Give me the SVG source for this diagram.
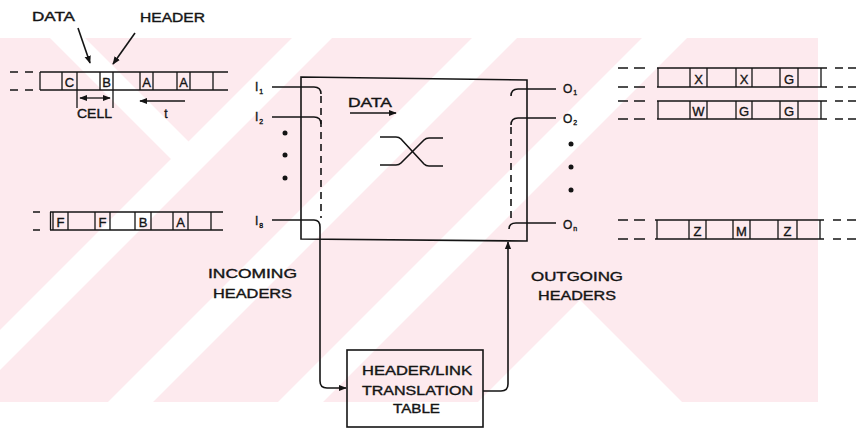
<svg xmlns="http://www.w3.org/2000/svg" width="856" height="431" viewBox="0 0 856 431">
<style>
.ln{stroke:#141414;stroke-width:1.6;fill:none}
.th{stroke:#141414;stroke-width:1.3;fill:none}
.dash{stroke:#141414;stroke-width:1.6;fill:none;stroke-dasharray:7,5}
.t{font-family:"Liberation Sans",Arial,sans-serif;fill:#141414;stroke:#141414;stroke-width:0.35}
.lab{font-size:12px}
.let{font-size:13px}
.sub{font-size:7px}
.wm{fill:#fdeaee}
.dot{fill:#141414}
</style>
<defs>
<marker id="ah" viewBox="0 0 10 10" refX="9" refY="5" markerWidth="8" markerHeight="8" markerUnits="userSpaceOnUse" orient="auto">
<path d="M0,1 L10,5 L0,9 Z" fill="#141414"/>
</marker>
<marker id="ahs" viewBox="0 0 10 10" refX="1" refY="5" markerWidth="8" markerHeight="8" markerUnits="userSpaceOnUse" orient="auto">
<path d="M10,1 L0,5 L10,9 Z" fill="#141414"/>
</marker>
<clipPath id="wmclip"><rect x="0" y="38" width="818" height="364"/></clipPath>
</defs>
<rect width="856" height="431" fill="#fff"/>
<g id="watermark" clip-path="url(#wmclip)">
<rect class="wm" x="0" y="38" width="818" height="364"/>
<polygon fill="#fff" points="50,38 85,38 207,160 0,367 0,332 172,160"/>
<polygon fill="#fff" points="292,38 332,38 0,370 0,330"/>
<polygon fill="#fff" points="472,38 517,38 153,402 108,402"/>
<polygon fill="#fff" points="642,38 687,38 323,402 278,402"/>
<polygon fill="#fff" points="478,402 580,300 682,402"/>
</g>

<g id="label-data-top">
<text class="t lab" x="32" y="21" textLength="43" lengthAdjust="spacingAndGlyphs">DATA</text>
</g>
<g id="label-header-top">
<text class="t lab" x="140" y="22" textLength="65" lengthAdjust="spacingAndGlyphs">HEADER</text>
</g>

<g id="incoming-stream-1">
<path class="ln" d="M10,72 H18 M25,72 H33 M10,90 H18 M25,90 H33"/>
<path class="ln" d="M40,72 H228 M40,90 H228"/>
<path class="th" d="M40,72 V90 M62,72 V90 M77,72 V90 M100,72 V90 M113,72 V90 M140,72 V90 M153,72 V90 M177,72 V90 M190,72 V90 M213,72 V90"/>
<text class="t let" x="69.5" y="87" text-anchor="middle">C</text>
<text class="t let" x="106.5" y="87" text-anchor="middle">B</text>
<text class="t let" x="146.5" y="87" text-anchor="middle">A</text>
<text class="t let" x="183.5" y="87" text-anchor="middle">A</text>
</g>

<g id="cell-dimension">
<path class="th" d="M77,90 V108 M113,90 V108"/>
<line class="th" x1="80" y1="98" x2="110" y2="98" marker-start="url(#ahs)" marker-end="url(#ah)"/>
<text class="t lab" x="77" y="118" textLength="35" lengthAdjust="spacingAndGlyphs">CELL</text>
</g>

<g id="time-arrow">
<line class="th" x1="185" y1="101" x2="140" y2="101" marker-end="url(#ah)"/>
<text class="t lab" x="166" y="118" text-anchor="middle">t</text>
</g>

<g id="incoming-stream-2">
<path class="ln" d="M33,212 H40 M33,230 H40"/>
<path class="ln" d="M50,212 H223 M50,230 H223"/>
<path class="th" d="M50.5,212 V230 M53,212 V230 M68,212 V230 M95,212 V230 M110,212 V230 M135,212 V230 M151,212 V230 M173,212 V230 M188,212 V230 M211,212 V230"/>
<text class="t let" x="60.5" y="227" text-anchor="middle">F</text>
<text class="t let" x="102.5" y="227" text-anchor="middle">F</text>
<text class="t let" x="143" y="227" text-anchor="middle">B</text>
<text class="t let" x="180.5" y="227" text-anchor="middle">A</text>
</g>

<g id="switch">
<path class="ln" d="M301,77 L527,80 L527,241 L301,239 Z"/>
<text class="t lab" x="348" y="107" textLength="44" lengthAdjust="spacingAndGlyphs">DATA</text>
<line class="th" x1="350" y1="113" x2="396" y2="113" marker-end="url(#ah)"/>
<path class="ln" d="M380,137 H396 Q399,137 401,139 L424,164 Q426,166 429,166 H443"/>
<path class="ln" d="M380,165 H396 Q399,165 401,163 L424,140 Q426,138 429,138 H443"/>
</g>

<g id="inputs">
<text class="t lab" x="255" y="91">I<tspan class="sub" dx="1" dy="3">1</tspan></text>
<text class="t lab" x="255" y="121">I<tspan class="sub" dx="1" dy="3">2</tspan></text>
<text class="t lab" x="255" y="225">I<tspan class="sub" dx="1" dy="3">8</tspan></text>
<circle class="dot" cx="285" cy="133" r="2.5"/>
<circle class="dot" cx="285" cy="155" r="2.5"/>
<circle class="dot" cx="285" cy="178" r="2.5"/>
</g>

<g id="outputs">
<text class="t lab" x="563" y="93">O<tspan class="sub" dx="1" dy="2">1</tspan></text>
<text class="t lab" x="563" y="123">O<tspan class="sub" dx="1" dy="2">2</tspan></text>
<text class="t lab" x="563" y="229">O<tspan class="sub" dx="1" dy="2">n</tspan></text>
<circle class="dot" cx="571" cy="144" r="2.5"/>
<circle class="dot" cx="571" cy="167" r="2.5"/>
<circle class="dot" cx="571" cy="190" r="2.5"/>
</g>

<g id="label-incoming">
<text class="t lab" x="208" y="278" textLength="89" lengthAdjust="spacingAndGlyphs">INCOMING</text>
<text class="t lab" x="213" y="298" textLength="79" lengthAdjust="spacingAndGlyphs">HEADERS</text>
</g>
<g id="label-outgoing">
<text class="t lab" x="531" y="281" textLength="92" lengthAdjust="spacingAndGlyphs">OUTGOING</text>
<text class="t lab" x="538" y="300" textLength="78" lengthAdjust="spacingAndGlyphs">HEADERS</text>
</g>

<g id="translation-table">
<rect class="ln" x="347" y="350" width="136" height="77" stroke-width="1.8"/>
<text class="t lab" x="362" y="375" textLength="110" lengthAdjust="spacingAndGlyphs">HEADER/LINK</text>
<text class="t lab" x="362" y="395" textLength="111" lengthAdjust="spacingAndGlyphs">TRANSLATION</text>
<text class="t lab" x="393" y="413" textLength="47" lengthAdjust="spacingAndGlyphs">TABLE</text>
</g>

<g id="outgoing-stream-1">
<path class="ln" d="M618,68 H628 M634,68 H645 M618,87 H628 M634,87 H645 M835,68 H843 M848,68 H856 M835,87 H843 M848,87 H856"/>
<path class="ln" d="M657,68 H827 M657,87 H827"/>
<path class="th" d="M658,68 V87 M690,68 V87 M707,68 V87 M736,68 V87 M752,68 V87 M780,68 V87 M798,68 V87 M821,68 V87"/>
<text class="t let" x="698.5" y="84" text-anchor="middle">X</text>
<text class="t let" x="744" y="84" text-anchor="middle">X</text>
<text class="t let" x="789" y="84" text-anchor="middle">G</text>
</g>

<g id="outgoing-stream-2">
<path class="ln" d="M618,101 H628 M634,101 H645 M618,119 H628 M634,119 H645 M835,101 H843 M848,101 H856 M835,119 H843 M848,119 H856"/>
<path class="ln" d="M657,101 H827 M657,119 H827"/>
<path class="th" d="M658,101 V119 M690,101 V119 M707,101 V119 M736,101 V119 M752,101 V119 M780,101 V119 M798,101 V119 M821,101 V119"/>
<text class="t let" x="698.5" y="116" text-anchor="middle">W</text>
<text class="t let" x="744" y="116" text-anchor="middle">G</text>
<text class="t let" x="789" y="116" text-anchor="middle">G</text>
</g>

<g id="outgoing-stream-3">
<path class="ln" d="M618,220 H628 M634,220 H645 M618,239 H628 M634,239 H645 M833,220 H841 M847,220 H856 M833,239 H841 M847,239 H856"/>
<path class="ln" d="M655,220 H824 M655,239 H824"/>
<path class="th" d="M657,220 V239 M689,220 V239 M706,220 V239 M733,220 V239 M750,220 V239 M778,220 V239 M797,220 V239 M820,220 V239"/>
<text class="t let" x="697.5" y="236" text-anchor="middle">Z</text>
<text class="t let" x="741.5" y="236" text-anchor="middle">M</text>
<text class="t let" x="787.5" y="236" text-anchor="middle">Z</text>
</g>

<g id="connectors">
<line class="ln" x1="78" y1="28" x2="90" y2="63" marker-end="url(#ah)"/>
<line class="ln" x1="135" y1="33" x2="113" y2="64" marker-end="url(#ah)"/>
<path class="ln" d="M272,87 H314 Q321,87 321,94"/>
<path class="ln" d="M272,117 H314 Q321,117 321,124"/>
<path class="dash" d="M321,96 V218"/>
<path class="ln" d="M272,220 H314 Q320,220 320,227 V381 Q320,388 327,388 H346" marker-end="url(#ah)"/>
<path class="ln" d="M511,96 Q511,89 518,89 H556"/>
<path class="ln" d="M511,125 Q511,118 518,118 H556"/>
<path class="dash" d="M511,127 V218"/>
<path class="ln" d="M509,229 Q509,223 516,223 H556"/>
<path class="ln" d="M483,391 H501 Q508,391 508,384 V242" marker-end="url(#ah)"/>
</g>
</svg>
